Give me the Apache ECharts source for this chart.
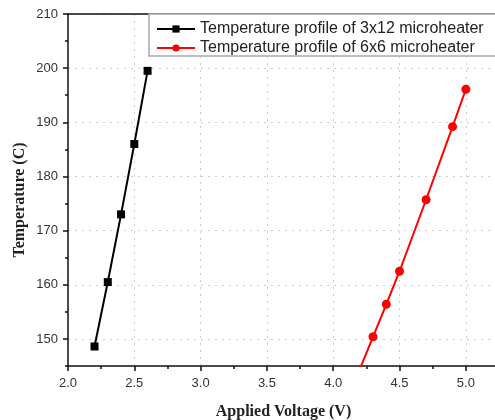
<!DOCTYPE html>
<html>
<head>
<meta charset="utf-8">
<script src="https://cdn.jsdelivr.net/npm/echarts@6/dist/echarts.min.js"></script>
<style>html,body{margin:0;padding:0;background:#fff;}#c{width:495px;height:420px;}</style>
</head>
<body>
<div id="c"></div>
<script>
const seriesNames = ['Temperature profile of 3x12 microheater', 'Temperature profile of 6x6 microheater'];
const voltage3x12 = [2.2, 2.3, 2.4, 2.5, 2.6];
const temp3x12 = [148.6, 160.5, 173.0, 186.0, 199.5];
const voltage6x6 = [4.2, 4.3, 4.4, 4.5, 4.7, 4.9, 5.0];
const temp6x6 = [144.4, 150.4, 156.4, 162.5, 175.7, 189.2, 196.1];
const yTickValues = [150, 160, 170, 180, 190, 200, 210];
const xAxisTitle = 'Applied Voltage (V)';
const yAxisTitle = 'Temperature (C)';

const chart = echarts.init(document.getElementById('c'), null, {renderer: 'canvas'});
const pair = (xs, ys) => xs.map((x, i) => [x, ys[i]]);
const tickFont = {fontFamily: 'Liberation Sans, Arial, sans-serif', fontSize: 13, color: '#333'};
const nameFont = {fontFamily: 'Liberation Serif, Times New Roman, serif', fontSize: 16, fontWeight: 'bold', color: '#222'};
const axisLineStyle = {color: '#111', width: 1.5};
chart.setOption({
  animation: false,
  backgroundColor: '#fff',
  grid: {left: 68, top: 14, width: 431, bottom: 54, containLabel: false, outerBoundsMode: 'none'},
  legend: {
    left: 149, top: 14,
    orient: 'vertical',
    data: seriesNames,
    itemWidth: 38, itemHeight: 9, itemGap: 3,
    padding: [7, 20, 0, 7],
    borderColor: '#aaa', borderWidth: 1.5,
    backgroundColor: '#fff',
    textStyle: {fontFamily: 'Liberation Sans, Arial, sans-serif', fontSize: 16, color: '#222'}
  },
  graphic: [{
    type: 'text', x: 20, y: 200, rotation: Math.PI / 2,
    style: {text: yAxisTitle, align: 'center', verticalAlign: 'middle',
      font: 'bold 16px "Liberation Serif", "Times New Roman", serif', fill: '#222'}
  }],
  xAxis: [{
    type: 'value', min: 2.0, max: 5.25, interval: 0.5,
    name: xAxisTitle, nameLocation: 'middle', nameGap: 38, nameTextStyle: nameFont,
    axisLine: {show: true, onZero: false, lineStyle: axisLineStyle},
    axisTick: {show: true, inside: false, length: 5, lineStyle: axisLineStyle},
    minorTick: {show: true, splitNumber: 2, length: 3, lineStyle: axisLineStyle},
    axisLabel: Object.assign({margin: 11, formatter: v => v.toFixed(1), showMaxLabel: false}, tickFont),
    splitLine: {show: true, lineStyle: {color: '#ccc', type: [2, 5], width: 1}}
  }, {
    type: 'value', position: 'top', min: 2.0, max: 5.25,
    axisLine: {show: true, lineStyle: axisLineStyle},
    axisTick: {show: false}, axisLabel: {show: false}, splitLine: {show: false}
  }],
  yAxis: [{
    type: 'value', min: 145, max: 210, interval: 5,
    axisLine: {show: true, onZero: false, lineStyle: axisLineStyle},
    axisTick: {show: true, inside: false, length: 5, customValues: yTickValues, lineStyle: axisLineStyle},
    axisLabel: Object.assign({margin: 10, customValues: yTickValues}, tickFont),
    splitLine: {show: true, lineStyle: {color: '#ccc', type: [2, 5], width: 1}}
  }, {
    type: 'value', position: 'left', min: 145, max: 210, interval: 5,
    axisLine: {show: false},
    axisTick: {show: true, inside: false, length: 3, lineStyle: axisLineStyle},
    axisLabel: {show: false}, splitLine: {show: false}
  }],
  series: [{
    name: seriesNames[0], type: 'line', clip: true,
    data: pair(voltage3x12, temp3x12),
    symbol: 'rect', symbolSize: 8,
    lineStyle: {color: '#000', width: 2}, itemStyle: {color: '#000'}
  }, {
    name: seriesNames[1], type: 'line', clip: true,
    data: pair(voltage6x6, temp6x6),
    symbol: 'circle', symbolSize: 9,
    lineStyle: {color: '#f00', width: 2}, itemStyle: {color: '#f00'}
  }]
});
</script>
</body>
</html>
